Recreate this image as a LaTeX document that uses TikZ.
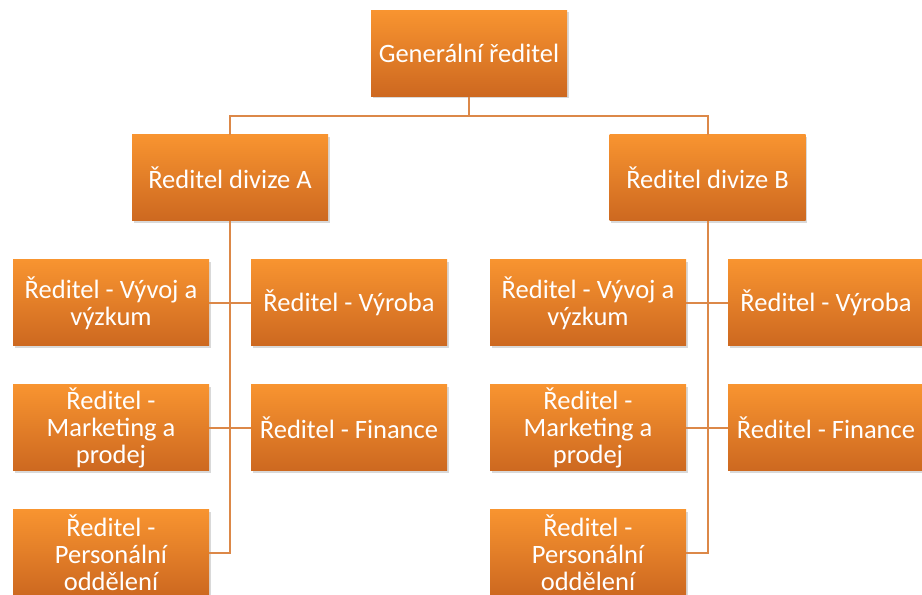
\documentclass[tikz,border=0pt]{standalone}
\usepackage{fontspec}
\setmainfont{Carlito}
\usetikzlibrary{positioning,shadows}
\definecolor{boxtop}{RGB}{248,148,48}
\definecolor{boxbot}{RGB}{205,104,32}
\definecolor{linkcol}{RGB}{220,136,72}
\tikzset{
orgbox/.style={
  rectangle,
  minimum width=196pt,
  minimum height=86pt,
  inner sep=2pt,
  top color=boxtop,
  bottom color=boxbot,
  drop shadow={opacity=0.3, shadow xshift=1.5pt, shadow yshift=-2pt},
  text=white,
  align=center,
  font=\fontsize{26.5}{27}\selectfont
  },
link/.style={draw=linkcol, line width=2pt}
}

\begin{document}
\begin{tikzpicture}[x=1pt, y=1pt]
\useasboundingbox (0,0) rectangle (922,595);
\node[orgbox] (gen) at (469,541.5) {Generální ředitel};

\node[orgbox] (divA) at (230,417) {Ředitel divize A};
\node[orgbox] (vyvA) at (111,292) {Ředitel - Vývoj a\\výzkum};
\node[orgbox] (vyrA) at (349,292) {Ředitel - Výroba};
\node[orgbox] (mktA) at (111,167) {Ředitel -\\Marketing a\\prodej};
\node[orgbox] (finA) at (349,167) {Ředitel - Finance};
\node[orgbox] (perA) at (111,42) {Ředitel -\\Personální\\oddělení};

\node[orgbox] (divB) at (707.5,417) {Ředitel divize B};
\node[orgbox] (vyvB) at (588,292) {Ředitel - Vývoj a\\výzkum};
\node[orgbox] (vyrB) at (826,292) {Ředitel - Výroba};
\node[orgbox] (mktB) at (588,167) {Ředitel -\\Marketing a\\prodej};
\node[orgbox] (finB) at (826,167) {Ředitel - Finance};
\node[orgbox] (perB) at (588,42) {Ředitel -\\Personální\\oddělení};

\begin{scope}[link]
\draw (gen.south) -- ++(0,-19) -| (divA.north);
\draw (gen.south) -- ++(0,-19) -| (divB.north);
\draw (divA.south) |- (perA.east);
\draw (vyvA.east) -- (vyrA.west);
\draw (mktA.east) -- (finA.west);
\draw (divB.south) |- (perB.east);
\draw (vyvB.east) -- (vyrB.west);
\draw (mktB.east) -- (finB.west);
\end{scope}
\end{tikzpicture}
\end{document}
